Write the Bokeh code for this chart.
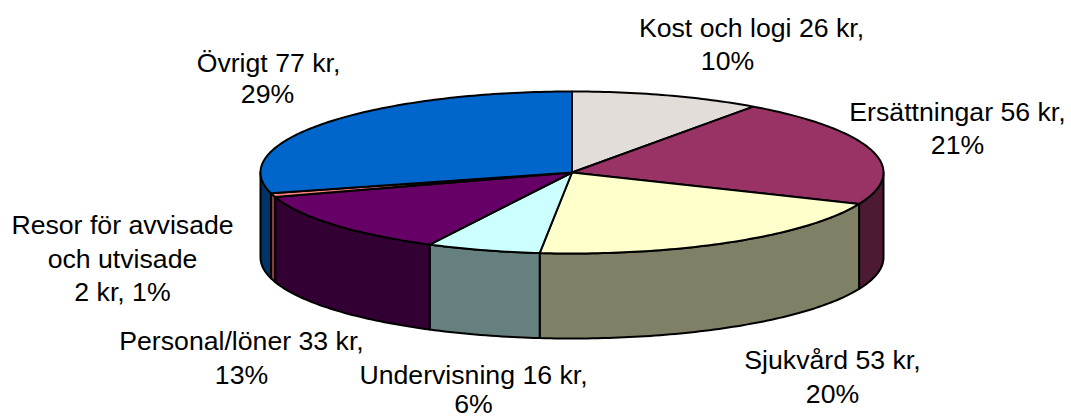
import numpy as np
from bokeh.plotting import figure
from bokeh.embed import file_html
from bokeh.resources import INLINE
from bokeh.core.properties import value

categories = ["Kost och logi", "Ersättningar", "Sjukvård", "Undervisning", "Personal/löner", "Resor för avvisade och utvisade", "Övrigt"]
amounts = [26, 56.4, 53.4, 15.5, 33, 2, 76.6]
top_colors = ["#E3DDDA", "#993366", "#FFFFCC", "#CCFFFF", "#660066", "#FF8080", "#0066CC"]
side_colors = ["#726E6D", "#4D1A33", "#808066", "#668080", "#330033", "#804040", "#003366"]

label_lines = ["Kost och logi 26 kr,", "10%", "Ersättningar 56 kr,", "21%", "Sjukvård 53 kr,", "20%",
               "Undervisning 16 kr,", "6%", "Personal/löner 33 kr,", "13%",
               "Resor för avvisade", "och utvisade", "2 kr, 1%", "Övrigt 77 kr,", "29%"]
label_x = [751, 727, 957, 957, 832, 832, 473, 473, 241, 241, 122, 122, 122, 268, 267]
label_y = [27, 60, 111, 144, 359, 393, 374, 403, 340, 374, 224, 258, 291, 62, 93]

CX, CY, RX, RY, DEPTH = 571.5, 172.0, 311.5, 81.0, 85.0
W, H = 1071, 418

p = figure(width=W, height=H, x_range=(0, W), y_range=(H, 0),
           output_backend="svg", toolbar_location=None, min_border=0)
p.axis.visible = False
p.grid.visible = False
p.outline_line_color = None
p.background_fill_color = "white"

edges = np.radians(np.concatenate([[0], np.cumsum(amounts)]) / np.sum(amounts) * 360)


def arc(a, b):
    t = np.linspace(a, b, max(int(abs(b - a) * 60), 2))
    return CX + RX * np.sin(t), CY - RY * np.cos(t)


# Side walls: only the front half (90..270 degrees) is visible
for i in range(len(amounts)):
    a, b = max(edges[i], np.pi / 2), min(edges[i + 1], 3 * np.pi / 2)
    if b <= a:
        continue
    x, y = arc(a, b)
    p.patch(np.concatenate([x, x[::-1]]), np.concatenate([y, y[::-1] + DEPTH]),
            fill_color=side_colors[i], line_color="black", line_width=2, line_join="round")

# Top faces
for i in range(len(amounts)):
    x, y = arc(edges[i], edges[i + 1])
    p.patch(np.concatenate([[CX], x]), np.concatenate([[CY], y]),
            fill_color=top_colors[i], line_color="black", line_width=2, line_join="round")

p.text(label_x, label_y, text=label_lines, text_font=value("Liberation Sans"), text_font_size="26.67px",
       text_color="black", text_align="center", text_baseline="middle")

open("out.html", "w").write(file_html(p, INLINE))
